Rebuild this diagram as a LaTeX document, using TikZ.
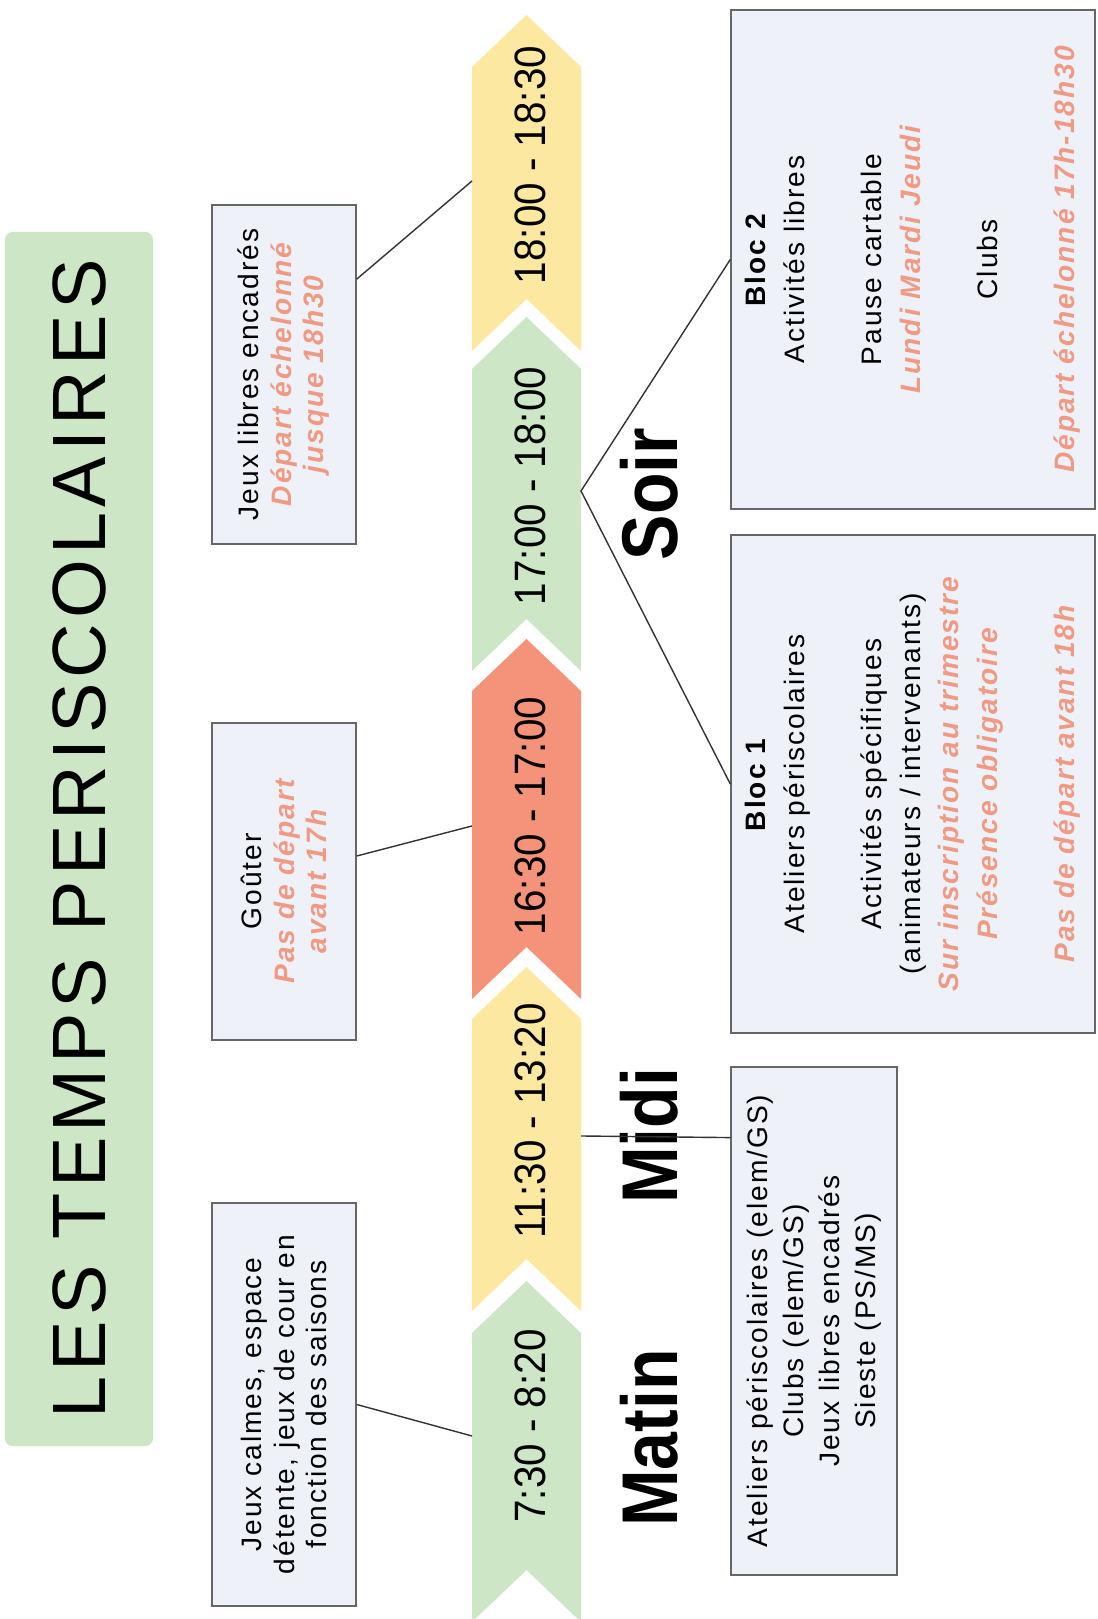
\documentclass[tikz,border=0pt]{standalone}
\usepackage{fontspec}
\setmainfont{Liberation Sans}[LetterSpace=7]
\newfontfamily\heurefont{Liberation Sans}[FakeStretch=0.92]
\newfontfamily\momentfont{Liberation Sans}[FakeStretch=0.86]
\usetikzlibrary{calc}

\definecolor{vertclair}{HTML}{CDE7C6}
\definecolor{jauneclair}{HTML}{FCE8A0}
\definecolor{saumon}{HTML}{F5937A}
\definecolor{saumontxt}{HTML}{F09A83}
\definecolor{fondcadre}{HTML}{EEF1F8}
\definecolor{bordcadre}{HTML}{666666}

\newcommand{\remarque}[1]{{\color{saumontxt}\bfseries\itshape #1}}
\newcommand{\bande}[3]{\fill[#1] (#2,-526.5) -- (#2-52,-472) -- (#3-52,-472) -- (#3,-526.5) -- (#3-52,-581) -- (#2-52,-581) -- cycle;}

\begin{document}
\begin{tikzpicture}[x=0.2mm,y=0.2mm,
    cadre/.style={draw=bordcadre, line width=0.8pt, fill=fondcadre, align=center, inner sep=0pt},
    heure/.style={font=\heurefont\fontsize{25}{30}\selectfont},
    moment/.style={font=\momentfont\bfseries\fontsize{45}{50}\selectfont},
    lien/.style={draw=black!80, line width=0.8pt}]
\begin{scope}[rotate=90, transform shape]
\fill[white] (0,0) rectangle (1619,-1097);
\useasboundingbox (0,0) rectangle (1619,-1097);

% titre
\node[fill=vertclair, rounded corners=1.5mm, minimum width=242.8mm, minimum height=29.6mm,
      font=\fontsize{43}{48}\selectfont] (titre) at (780,-79) {LES TEMPS PERISCOLAIRES};

% frise
\bande{vertclair}{49}{338}
\bande{jauneclair}{360}{652}
\bande{saumon}{672}{980}
\bande{vertclair}{1000}{1302}
\bande{jauneclair}{1320}{1604}

\node[heure] (h730) at (193,-530) {7:30 - 8:20};
\node[heure] (h1130) at (498,-530) {11:30 - 13:20};
\node[heure] (h1630) at (803,-530) {16:30 - 17:00};
\node[heure] (h1700) at (1133,-530) {17:00 - 18:00};
\node[heure] (h1800) at (1454,-530) {18:00 - 18:30};

\coordinate (bordG1) at (183,-472);
\coordinate (bordR) at (793,-472);
\coordinate (bordY2) at (1438,-472);
\coordinate (bordY1) at (483,-581);
\coordinate (bordG2) at (1128,-581);

\node[moment] (matin) at (181,-649) {Matin};
\node[moment] (midi) at (483,-649) {Midi};
\node[moment] (soir) at (1125,-649) {Soir};

% cadres a gauche
\node[cadre, minimum width=67.8mm, minimum height=28.8mm, font=\fontsize{16}{18.5}\selectfont]
  (jeuxlibres) at (1244.5,-284) {Jeux libres encadrés\\ \remarque{Départ échelonné}\\ \remarque{jusque 18h30}};
\node[cadre, minimum width=63.4mm, minimum height=28.8mm, font=\fontsize{16}{18.5}\selectfont]
  (gouter) at (737.5,-284) {Goûter\\ \remarque{Pas de départ}\\ \remarque{avant 17h}};
\node[cadre, minimum width=80.6mm, minimum height=28.8mm, font=\fontsize{16}{18.5}\selectfont]
  (calmes) at (214.5,-284) {Jeux calmes, espace\\ détente, jeux de cour en\\ fonction des saisons};

% cadres a droite
\node[cadre, minimum width=99.8mm, minimum height=72.8mm, font=\fontsize{16}{22}\selectfont]
  (bloc2) at (1359.5,-913) {\textbf{Bloc 2}\\ Activités libres\\[22pt] Pause cartable\\ \remarque{Lundi Mardi Jeudi}\\[22pt] Clubs\\[22pt] \remarque{Départ échelonné 17h-18h30}};
\node[cadre, minimum width=99.6mm, minimum height=72.8mm, font=\fontsize{16}{22}\selectfont]
  (bloc1) at (835,-913) {\textbf{Bloc 1}\\ Ateliers périscolaires\\[22pt] Activités spécifiques\\ (animateurs / intervenants)\\ \remarque{Sur inscription au trimestre}\\ \remarque{Présence obligatoire}\\[22pt] \remarque{Pas de départ avant 18h}};
\node[cadre, minimum width=101.6mm, minimum height=33.2mm, font=\fontsize{16}{20.4}\selectfont]
  (midicadre) at (298,-814) {Ateliers périscolaires (elem/GS)\\ Clubs (elem/GS)\\ Jeux libres encadrés\\ Sieste (PS/MS)};

% liens
\draw[lien] ($(jeuxlibres.south west)!0.78!(jeuxlibres.south east)$) -- (bordY2);
\draw[lien] ($(gouter.south west)!0.58!(gouter.south east)$) -- (bordR);
\draw[lien] (calmes.south) -- (bordG1);
\draw[lien] (bordY1) -- ($(midicadre.north west)!0.86!(midicadre.north east)$);
\draw[lien] (bloc2.north) -- (bordG2) -- (bloc1.north);
\end{scope}
\end{tikzpicture}
\end{document}
